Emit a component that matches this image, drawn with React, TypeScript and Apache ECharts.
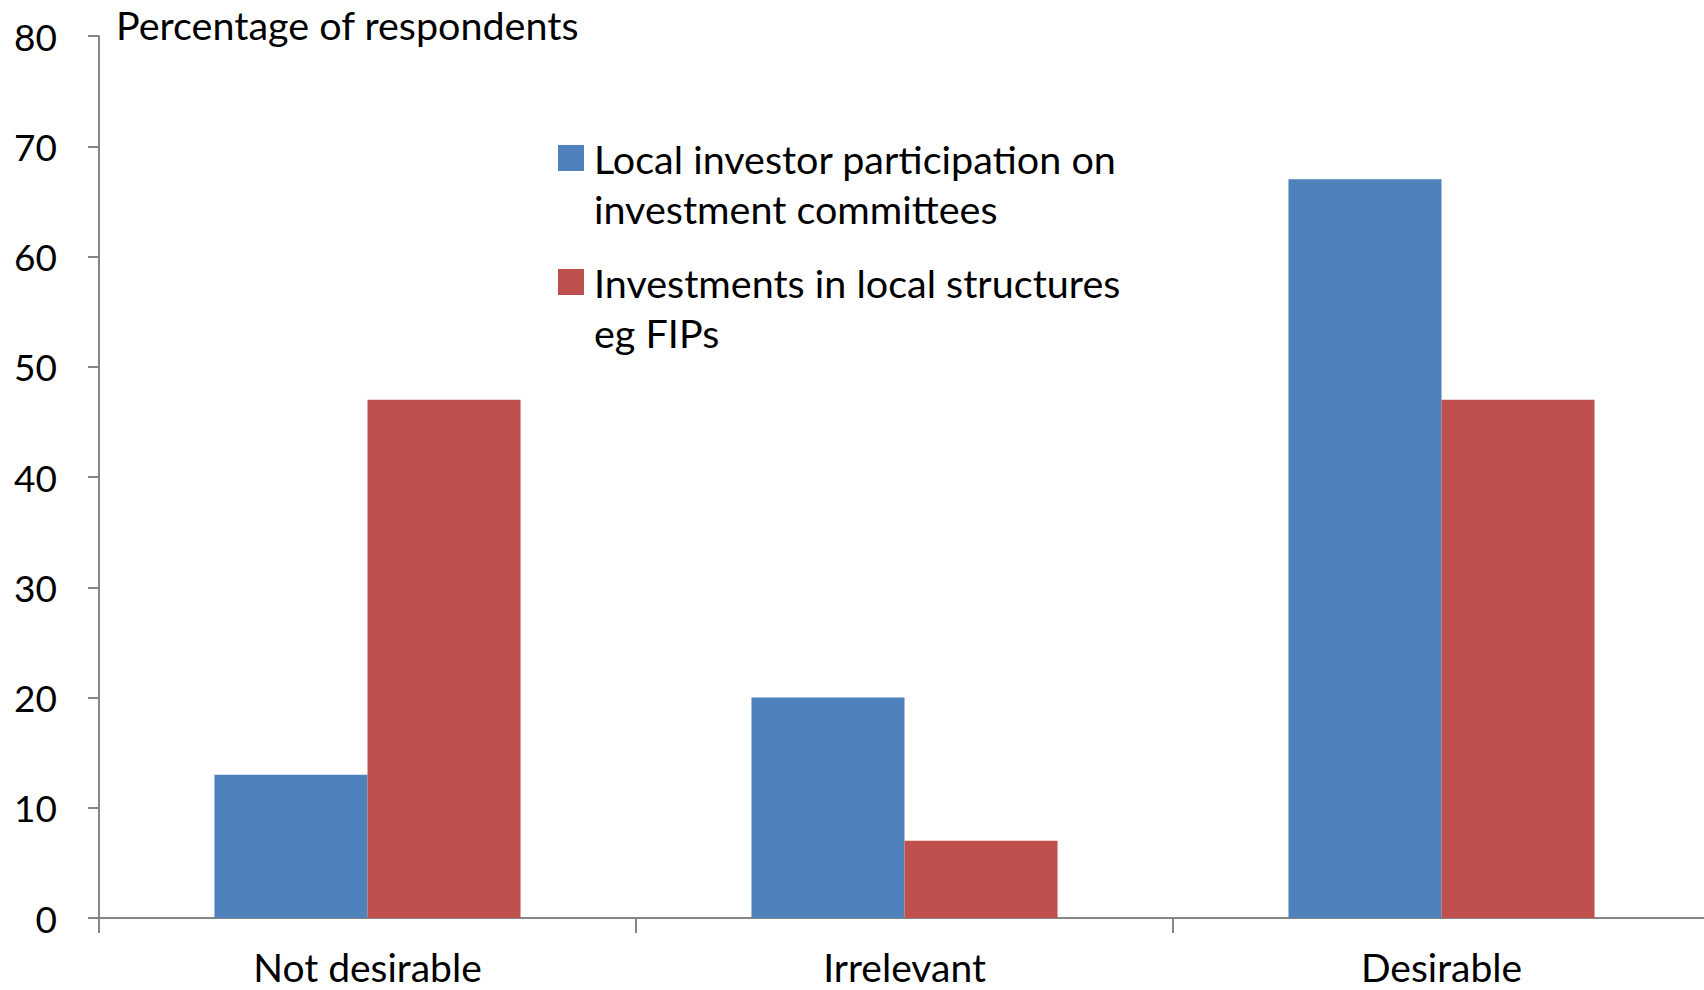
import React, { useEffect, useRef } from "react";
import * as echarts from "echarts";

const categories = ["Not desirable", "Irrelevant", "Desirable"];
const seriesNames = [
  "Local investor participation on investment committees",
  "Investments in local structures eg FIPs",
];
const legendLines = [
  ["Local investor participation on", "investment committees"],
  ["Investments in local structures", "eg FIPs"],
];
const localParticipation = [13, 20, 67];
const localStructures = [47, 7, 47];
const yMin = 0;
const yMax = 80;
const yInterval = 10;
const axisTitle = "Percentage of respondents";

const FONT = "Lato, Carlito, Calibri, sans-serif";
const FS = 39.5;
const BLUE = "#4F81BD";
const RED = "#C0504D";
const AXIS = "#868686";

export default function App() {
  const ref = useRef<HTMLDivElement>(null);
  useEffect(() => {
    document.body.style.margin = "0";
    document.body.style.overflow = "hidden";
    document.documentElement.style.overflow = "hidden";
    const chart = echarts.init(ref.current!, undefined, { renderer: "svg" });
    chart.setOption({
      animation: false,
      backgroundColor: "#ffffff",
      grid: { left: 99, top: 36, bottom: 72, right: 6, containLabel: false },
      legend: {
        orient: "vertical",
        left: 558,
        top: 83,
        padding: 0,
        itemWidth: 26,
        itemHeight: 26,
        itemGap: -26,
        icon: "rect",
        selectedMode: false,
        formatter: (name: string) => "\n" + legendLines[seriesNames.indexOf(name)].join("\n"),
        textStyle: {
          fontFamily: FONT,
          fontSize: FS,
          color: "#000",
          lineHeight: 50,
          padding: [0, 0, 0, 5],
        },
      },
      xAxis: {
        type: "category",
        data: categories,
        axisLine: { lineStyle: { color: AXIS, width: 2 } },
        axisTick: { show: true, alignWithLabel: false, length: 15, lineStyle: { color: AXIS, width: 2 } },
        axisLabel: { fontFamily: FONT, fontSize: 39, color: "#000", margin: 31, lineHeight: 36 },
      },
      yAxis: {
        type: "value",
        min: yMin,
        max: yMax,
        interval: yInterval,
        name: axisTitle,
        nameLocation: "end",
        nameGap: 12,
        nameTextStyle: {
          fontFamily: FONT,
          fontSize: FS,
          color: "#000",
          align: "left",
          verticalAlign: "middle",
          padding: [0, 0, 0, 17],
        },
        axisLine: { show: true, lineStyle: { color: AXIS, width: 2 } },
        axisTick: { show: true, inside: false, length: 11, lineStyle: { color: AXIS, width: 2 } },
        splitLine: { show: false },
        axisLabel: { fontFamily: FONT, fontSize: 37, color: "#000", margin: 42 },
      },
      series: [
        {
          name: seriesNames[0],
          type: "bar",
          data: localParticipation,
          barWidth: "28.5%",
          barGap: "0%",
          itemStyle: { color: BLUE },
        },
        {
          name: seriesNames[1],
          type: "bar",
          data: localStructures,
          barWidth: "28.5%",
          barGap: "0%",
          itemStyle: { color: RED },
        },
      ],
    });
    return () => chart.dispose();
  }, []);
  return <div ref={ref} style={{ width: 1716, height: 990 }} />;
}
